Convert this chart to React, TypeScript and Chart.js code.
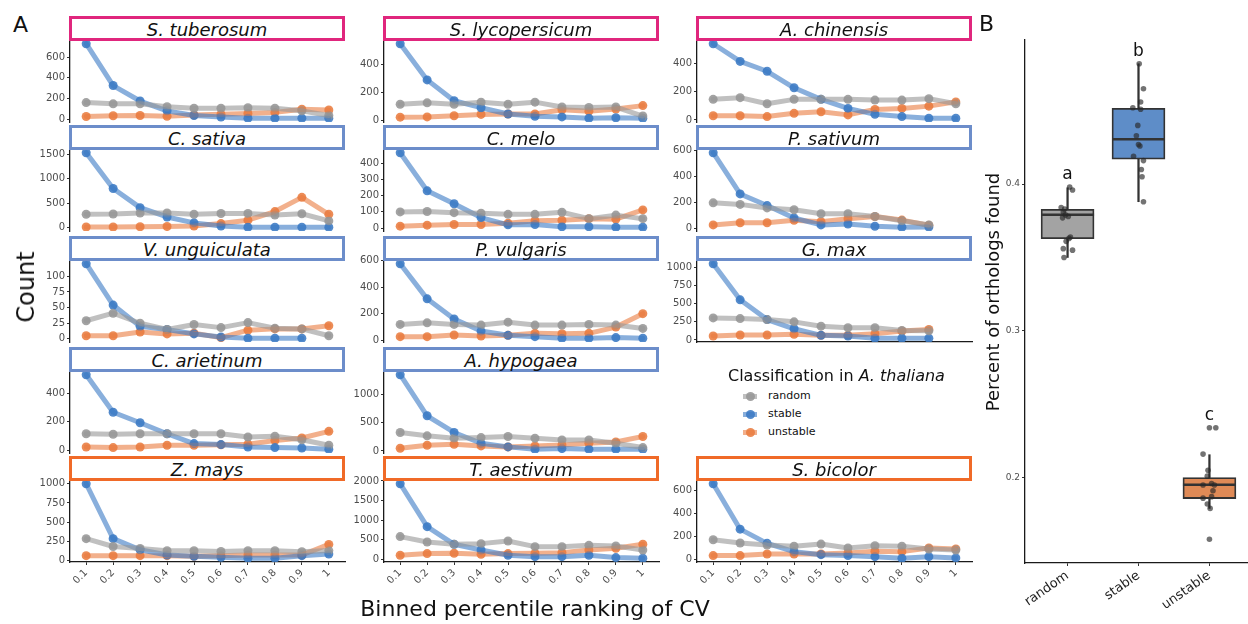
import React, { useEffect, useRef } from "react";
import { Chart, registerables } from "chart.js";

Chart.register(...registerables);

const FONT = '"DejaVu Sans", "Liberation Sans", Arial, sans-serif';
const TICK_COLOR = "#4d4d4d";
const AXIS_COLOR = "#1a1a1a";

// ---- Panel A: counts per CV percentile bin ----
const binLabels = ["0.1", "0.2", "0.3", "0.4", "0.5", "0.6", "0.7", "0.8", "0.9", "1"];

const species = [
  "S. tuberosum", "S. lycopersicum", "A. chinensis",
  "C. sativa", "C. melo", "P. sativum",
  "V. unguiculata", "P. vulgaris", "G. max",
  "C. arietinum", "A. hypogaea",
  "Z. mays", "T. aestivum", "S. bicolor",
];

const clade = [
  "asterid", "asterid", "asterid",
  "rosid", "rosid", "rosid",
  "rosid", "rosid", "rosid",
  "rosid", "rosid",
  "monocot", "monocot", "monocot",
];

const cladeColors: Record<string, string> = {
  asterid: "#E0267D",
  rosid: "#6C8DCA",
  monocot: "#F06A28",
};

const randomCounts = [
  [160, 148, 148, 120, 105, 105, 110, 105, 80, 35],
  [115, 125, 115, 130, 115, 130, 95, 92, 95, 30],
  [146, 158, 115, 146, 146, 146, 141, 141, 151, 115],
  [275, 280, 300, 300, 275, 290, 290, 260, 285, 140],
  [100, 102, 95, 92, 85, 85, 98, 58, 80, 58],
  [197, 185, 158, 144, 113, 113, 92, 60, 28, null],
  [29, 41, 25, 15, 23, 18, 26, 17, 16, 5],
  [119, 131, 119, 114, 136, 114, 114, 119, 114, 89],
  [302, 293, 279, 248, 189, 167, 167, 131, 125, null],
  [116, 112, 116, 116, 116, 116, 93, 98, 74, 35],
  [324, 265, 224, 235, 253, 224, 194, 194, 135, 59],
  [285, 183, 157, 128, 128, 119, 128, 128, 115, 130],
  [579, 443, 383, 400, 468, 323, 323, 357, 340, 238],
  [173, 145, 128, 117, 136, 102, 122, 117, 94, 85],
];

const stableCounts = [
  [730, 325, 175, 80, 35, 20, 8, 8, 8, 8],
  [550, 290, 140, 90, 45, 28, 24, 14, 18, 14],
  [540, 415, 345, 228, 146, 82, 40, 24, 12, 12],
  [1530, 800, 410, 220, 100, 35, 10, 10, 10, 10],
  [465, 230, 150, 65, 20, 22, 8, 8, 5, 5],
  [580, 265, 176, 81, 28, 35, 18, 10, 12, null],
  [120, 54, 20, 15, 8, 3, 1, 1, 1, null],
  [575, 311, 160, 69, 37, 27, 15, 15, 20, 15],
  [1045, 550, 279, 153, 63, 54, 23, 23, 23, null],
  [530, 267, 193, 116, 47, 40, 23, 19, 16, 7],
  [1340, 618, 324, 135, 71, 29, 41, 29, 29, 29],
  [1000, 285, 140, 72, 55, 43, 30, 30, 64, 85],
  [1930, 834, 383, 238, 102, 68, 68, 102, 43, 26],
  [654, 264, 142, 71, 45, 37, 28, 14, 28, 17],
];

const unstableCounts = [
  [25, 32, 35, 28, 40, 48, 55, 65, 95, 88],
  [22, 24, 32, 42, 45, 45, 75, 65, 80, 105],
  [30, 30, 24, 47, 58, 36, 75, 82, 98, 128],
  [15, 15, 20, 25, 35, 85, 155, 330, 620, 275],
  [12, 18, 22, 22, 30, 45, 48, 58, 55, 112],
  [28, 45, 45, 63, 52, 75, 92, 65, 25, null],
  [5, 5, 11, 8, 9, 2, 14, 16, 16, 21],
  [27, 27, 40, 32, 37, 52, 49, 52, 99, 200],
  [54, 68, 68, 77, 63, 63, 86, 122, 144, null],
  [23, 19, 23, 35, 35, 38, 42, 68, 86, 133],
  [47, 100, 118, 88, 71, 88, 106, 135, 159, 253],
  [64, 64, 64, 64, 55, 64, 72, 72, 72, 210],
  [102, 145, 153, 128, 145, 153, 170, 238, 281, 383],
  [37, 37, 51, 51, 51, 60, 74, 71, 102, 94],
];

const yTicks = [
  [0, 200, 400, 600],
  [0, 200, 400],
  [0, 200, 400],
  [0, 500, 1000, 1500],
  [0, 100, 200, 300, 400],
  [0, 200, 400, 600],
  [0, 25, 50, 75, 100],
  [0, 200, 400, 600],
  [0, 250, 500, 750, 1000],
  [0, 200, 400],
  [0, 500, 1000],
  [0, 250, 500, 750, 1000],
  [0, 500, 1000, 1500, 2000],
  [0, 200, 400, 600],
];

const seriesNames = ["random", "stable", "unstable"];
const seriesRGB: Record<string, number[]> = {
  random: [150, 150, 150],
  stable: [59, 122, 196],
  unstable: [233, 124, 64],
};

// ---- Panel B: percent of orthologs found ----
const classes = ["random", "stable", "unstable"];
const groupLetters = ["a", "b", "c"];
const boxLower = [0.35, 0.388, 0.179];
const boxQ1 = [0.3628, 0.417, 0.1857];
const boxMedian = [0.3791, 0.4306, 0.1952];
const boxQ3 = [0.3828, 0.4517, 0.2];
const boxUpper = [0.3975, 0.482, 0.2156];
const boxFill = ["#A3A3A3", "#5E8DC8", "#DF8A56"];

const randomPercent = [0.398, 0.396, 0.384, 0.383, 0.381, 0.379, 0.378, 0.377, 0.364, 0.363, 0.361, 0.356, 0.355, 0.35];
const randomJitter = [0.03, 0.07, -0.09, -0.04, -0.06, -0.03, 0.01, -0.07, 0.04, 0.02, -0.02, -0.06, 0.07, -0.05];
const stablePercent = [0.482, 0.465, 0.456, 0.452, 0.451, 0.44, 0.433, 0.427, 0.426, 0.419, 0.416, 0.41, 0.405, 0.388];
const stableJitter = [0.01, 0.07, 0.03, -0.08, 0.03, -0.01, -0.03, 0.0, 0.02, -0.07, 0.07, 0.04, 0.05, 0.07];
const unstablePercent = [0.234, 0.234, 0.216, 0.205, 0.201, 0.195, 0.196, 0.195, 0.186, 0.187, 0.182, 0.179, 0.191, 0.158];
const unstableJitter = [0.0, 0.09, -0.09, -0.02, -0.03, -0.09, 0.03, 0.07, -0.09, 0.03, -0.03, 0.01, 0.05, 0.0];

const groupPercents = [randomPercent, stablePercent, unstablePercent];
const groupJitters = [randomJitter, stableJitter, unstableJitter];

// ---- layout ----
const PLOT_LEFT = [70, 384, 697];
const PLOT_TOP = [40, 149, 260, 371, 480];
const PLOT_W = 275;
const PLOT_H = 82;
const AXIS_W = 40;
const PAD_T = 12;
const PAD_R = 8;
const FACET_ROWS = 5;
const LEGEND_SLOT = 11;

const rgba = (c: number[], a: number) => `rgba(${c[0]},${c[1]},${c[2]},${a})`;

const slotOf = (i: number) => (i < LEGEND_SLOT ? i : i + 1);
const slotUsed = (s: number) => s !== LEGEND_SLOT && s < species.length + 1;

function expandedRange(values: number[]) {
  const lo = Math.min(...values);
  const hi = Math.max(...values);
  const pad = (hi - lo) * 0.05;
  return { min: lo - pad, max: hi + pad };
}

function CountPanel({ idx }: { idx: number }) {
  const ref = useRef<HTMLCanvasElement>(null);
  const slot = slotOf(idx);
  const row = Math.floor(slot / 3);
  const col = slot % 3;
  const bottomRow = row === FACET_ROWS - 1;
  const openBelow = !bottomRow && !slotUsed(slot + 3);
  const xHeight = bottomRow ? 32 : 0;
  const padBottom = bottomRow ? 2 : 12;
  const width = AXIS_W + PLOT_W + PAD_R;
  const height = PAD_T + PLOT_H + xHeight + padBottom;

  useEffect(() => {
    const series: Record<string, (number | null)[]> = {
      random: randomCounts[idx],
      stable: stableCounts[idx],
      unstable: unstableCounts[idx],
    };
    const all = seriesNames.flatMap((n) => series[n].filter((v) => v !== null) as number[]);
    const range = expandedRange(all);
    const toXY = (vals: (number | null)[]) => vals.map((v, k) => ({ x: k + 1, y: v }));

    const lineSets = seriesNames.map((n) => ({
      data: toXY(series[n]),
      borderColor: rgba(seriesRGB[n], 0.6),
      borderWidth: 5,
      borderCapStyle: "round",
      borderJoinStyle: "round",
      pointRadius: 0,
      tension: 0,
    }));
    const pointSets = seriesNames.map((n) => ({
      data: toXY(series[n]),
      showLine: false,
      pointRadius: 4.5,
      pointBorderWidth: 0,
      pointBackgroundColor: rgba(seriesRGB[n], 0.88),
    }));

    const chart = new Chart(ref.current as HTMLCanvasElement, {
      type: "line",
      data: { datasets: [...lineSets, ...pointSets] as any },
      options: {
        responsive: false,
        animation: false,
        events: [],
        layout: { autoPadding: false, padding: { top: PAD_T, right: PAD_R, bottom: padBottom, left: 0 } },
        plugins: { legend: { display: false }, tooltip: { enabled: false } },
        scales: {
          x: {
            type: "linear",
            display: bottomRow || openBelow,
            offset: false,
            min: 0.4,
            max: binLabels.length + 0.6,
            afterBuildTicks: (s: any) => {
              s.ticks = binLabels.map((_, k) => ({ value: k + 1 }));
            },
            afterFit: (s: any) => {
              s.height = xHeight;
            },
            ticks: {
              display: bottomRow,
              autoSkip: false,
              maxRotation: 45,
              minRotation: 45,
              padding: 2,
              color: TICK_COLOR,
              font: { family: FONT, size: 10 },
              callback: (_v: any, k: number) => binLabels[k],
            },
            grid: { drawOnChartArea: false, drawTicks: bottomRow, tickLength: 3, color: "#333" },
            border: { display: true, color: AXIS_COLOR, width: 1.3 },
          },
          y: {
            type: "linear",
            min: range.min,
            max: range.max,
            afterBuildTicks: (s: any) => {
              s.ticks = yTicks[idx].map((v) => ({ value: v }));
            },
            afterFit: (s: any) => {
              s.width = AXIS_W;
            },
            ticks: {
              padding: 2,
              color: TICK_COLOR,
              font: { family: FONT, size: 10 },
              callback: (v: any) => String(v),
            },
            grid: { drawOnChartArea: false, drawTicks: true, tickLength: 3, color: "#333" },
            border: { display: true, color: AXIS_COLOR, width: 1.3 },
          },
        },
      } as any,
    });
    return () => chart.destroy();
  }, [idx]);

  return (
    <canvas
      ref={ref}
      width={width}
      height={height}
      style={{
        position: "absolute",
        left: PLOT_LEFT[col] - AXIS_W,
        top: PLOT_TOP[row] - PAD_T,
        width,
        height,
      }}
    />
  );
}

function Strip({ idx }: { idx: number }) {
  const slot = slotOf(idx);
  const row = Math.floor(slot / 3);
  const col = slot % 3;
  return (
    <div
      style={{
        position: "absolute",
        left: PLOT_LEFT[col] - 1,
        top: PLOT_TOP[row] - 24,
        width: PLOT_W + 1,
        height: 25,
        boxSizing: "border-box",
        border: `3px solid ${cladeColors[clade[idx]]}`,
        background: "#fff",
        display: "flex",
        alignItems: "center",
        justifyContent: "center",
        paddingTop: 3,
        fontStyle: "italic",
        fontSize: 18,
        lineHeight: 1,
        color: "#111",
        whiteSpace: "nowrap",
        zIndex: 2,
      }}
    >
      {species[idx]}
    </div>
  );
}

// Panel B geometry
const B_LEFT = 1025;
const B_TOP = 40;
const B_PLOT_H = 523;
const B_AXIS_W = 30;
const B_X_H = 55;
const B_PLOT_W = 227;

const letterPlugin = {
  id: "groupLetters",
  afterDatasetsDraw(chart: any) {
    const { ctx, scales } = chart;
    ctx.save();
    ctx.font = `17px ${FONT}`;
    ctx.fillStyle = "#111";
    ctx.textAlign = "center";
    ctx.textBaseline = "alphabetic";
    groupLetters.forEach((l, k) => {
      const top = Math.max(...groupPercents[k]);
      ctx.fillText(l, scales.x.getPixelForValue(k + 1), scales.y.getPixelForValue(top) - 8);
    });
    ctx.restore();
  },
};

function PercentPanel() {
  const ref = useRef<HTMLCanvasElement>(null);
  const width = B_AXIS_W + B_PLOT_W;
  const height = PAD_T + B_PLOT_H + B_X_H;

  useEffect(() => {
    const range = expandedRange(groupPercents.flat());
    const jitterPoints = groupPercents.flatMap((vals, k) =>
      vals.map((v, j) => ({ x: k + 1 + groupJitters[k][j], y: v }))
    );
    const chart = new Chart(ref.current as HTMLCanvasElement, {
      type: "bar",
      data: {
        datasets: [
          {
            type: "scatter",
            data: jitterPoints,
            pointRadius: 2.8,
            pointBorderWidth: 0,
            pointBackgroundColor: "rgba(40,40,40,0.65)",
            order: 0,
          },
          {
            type: "scatter",
            data: boxMedian.map((m, k) => ({ x: k + 1, y: m })),
            pointStyle: "line",
            pointRadius: 26.5,
            pointBorderWidth: 2.5,
            pointBorderColor: "#333",
            order: 1,
          },
          {
            type: "bar",
            data: classes.map((_, k) => ({ x: k + 1, y: [boxQ1[k], boxQ3[k]] })),
            backgroundColor: boxFill,
            borderColor: "#333",
            borderWidth: 1.8,
            borderSkipped: false,
            barThickness: 53,
            grouped: false,
            order: 2,
          },
          {
            type: "bar",
            data: classes.map((_, k) => ({ x: k + 1, y: [boxLower[k], boxUpper[k]] })),
            backgroundColor: "#333",
            barThickness: 1.6,
            grouped: false,
            order: 3,
          },
        ],
      } as any,
      options: {
        responsive: false,
        animation: false,
        events: [],
        layout: { autoPadding: false, padding: { top: PAD_T, right: 0, bottom: 0, left: 0 } },
        plugins: { legend: { display: false }, tooltip: { enabled: false } },
        scales: {
          x: {
            type: "linear",
            offset: false,
            min: 0.4,
            max: classes.length + 0.6,
            afterBuildTicks: (s: any) => {
              s.ticks = classes.map((_, k) => ({ value: k + 1 }));
            },
            afterFit: (s: any) => {
              s.height = B_X_H;
            },
            ticks: {
              autoSkip: false,
              maxRotation: 35,
              minRotation: 35,
              padding: 2,
              color: "#222",
              font: { family: FONT, size: 13 },
              callback: (_v: any, k: number) => classes[k],
            },
            grid: { offset: false, drawOnChartArea: false, drawTicks: true, tickLength: 3, color: "#333" },
            border: { display: true, color: AXIS_COLOR, width: 1.3 },
          },
          y: {
            type: "linear",
            min: range.min,
            max: range.max,
            afterBuildTicks: (s: any) => {
              s.ticks = [0.2, 0.3, 0.4].map((v) => ({ value: v }));
            },
            afterFit: (s: any) => {
              s.width = B_AXIS_W;
            },
            ticks: {
              padding: 2,
              color: TICK_COLOR,
              font: { family: FONT, size: 9 },
              callback: (v: any) => Number(v).toFixed(1),
            },
            grid: { drawOnChartArea: false, drawTicks: true, tickLength: 3, color: "#333" },
            border: { display: true, color: AXIS_COLOR, width: 1.3 },
          },
        },
      } as any,
      plugins: [letterPlugin],
    });
    return () => chart.destroy();
  }, []);

  return (
    <canvas
      ref={ref}
      width={width}
      height={height}
      style={{ position: "absolute", left: B_LEFT - B_AXIS_W, top: B_TOP - PAD_T, width, height }}
    />
  );
}

function Legend() {
  const rows = [396, 414, 432];
  return (
    <>
      <div
        style={{
          position: "absolute",
          left: 728,
          top: 368,
          fontSize: 16,
          lineHeight: "16px",
          color: "#111",
          whiteSpace: "nowrap",
        }}
      >
        Classification in <i>A. thaliana</i>
      </div>
      {seriesNames.map((n, k) => (
        <React.Fragment key={n}>
          <div
            style={{
              position: "absolute",
              left: 743,
              top: rows[k] - 2.5,
              width: 14,
              height: 5,
              background: rgba(seriesRGB[n], 0.6),
            }}
          />
          <div
            style={{
              position: "absolute",
              left: 745.5,
              top: rows[k] - 4.5,
              width: 9,
              height: 9,
              borderRadius: "50%",
              background: rgba(seriesRGB[n], 0.88),
            }}
          />
          <div
            style={{
              position: "absolute",
              left: 768,
              top: rows[k] - 7,
              fontSize: 11,
              lineHeight: "14px",
              color: "#111",
            }}
          >
            {n}
          </div>
        </React.Fragment>
      ))}
    </>
  );
}

export default function App() {
  return (
    <div
      style={{
        position: "fixed",
        left: 0,
        top: 0,
        width: 1248,
        height: 624,
        overflow: "hidden",
        background: "#fff",
        fontFamily: FONT,
      }}
    >
      {species.map((_, i) => (
        <CountPanel key={`p${i}`} idx={i} />
      ))}
      {species.map((_, i) => (
        <Strip key={`s${i}`} idx={i} />
      ))}
      <Legend />
      <PercentPanel />

      <div style={{ position: "absolute", left: 13, top: 14, fontSize: 22, lineHeight: 1, color: "#111" }}>A</div>
      <div style={{ position: "absolute", left: 979, top: 13, fontSize: 22, lineHeight: 1, color: "#111" }}>B</div>

      <div
        style={{
          position: "absolute",
          left: 26,
          top: 287,
          fontSize: 24,
          lineHeight: 1,
          color: "#111",
          whiteSpace: "nowrap",
          transform: "translate(-50%, -50%) rotate(-90deg)",
        }}
      >
        Count
      </div>
      <div
        style={{
          position: "absolute",
          left: 535,
          top: 609,
          fontSize: 22,
          lineHeight: 1,
          color: "#111",
          whiteSpace: "nowrap",
          transform: "translate(-50%, -50%)",
        }}
      >
        Binned percentile ranking of CV
      </div>
      <div
        style={{
          position: "absolute",
          left: 993,
          top: 292,
          fontSize: 18,
          lineHeight: 1,
          color: "#111",
          whiteSpace: "nowrap",
          transform: "translate(-50%, -50%) rotate(-90deg)",
        }}
      >
        Percent of orthologs found
      </div>
    </div>
  );
}
